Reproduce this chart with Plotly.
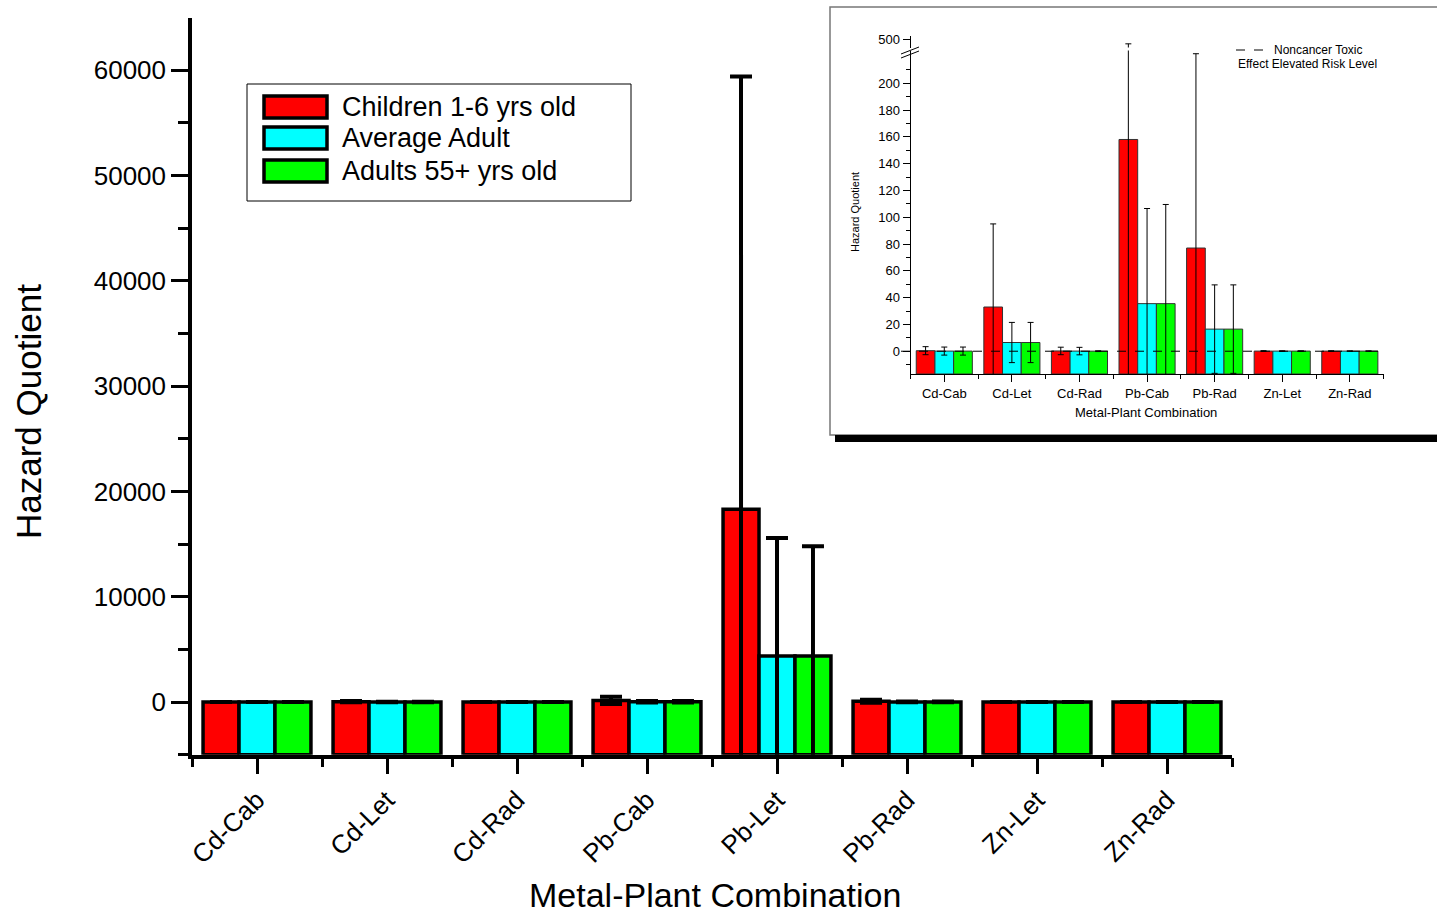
import plotly.graph_objects as go

W, H = 1437, 917

categories = ["Cd-Cab", "Cd-Let", "Cd-Rad", "Pb-Cab", "Pb-Let", "Pb-Rad", "Zn-Let", "Zn-Rad"]
series_names = ["Children 1-6 yrs old", "Average Adult", "Adults 55+ yrs old"]
series_colors = ["#FF0000", "#00FFFF", "#00FF00"]

children = [0.4, 33, 0.2, 158, 18300, 77, 0.1, 0.1]
children_err = [3, 62, 2.8, 334, 41100, 145, 0.3, 0.3]
adult = [0.1, 6.5, 0.1, 35.5, 4370, 16.5, 0.1, 0.1]
adult_err = [3, 15, 2.8, 71, 11200, 33, 0.2, 0.2]
senior = [0.1, 6.5, 0.05, 35.5, 4370, 16.5, 0.1, 0.1]
senior_err = [3, 15, 0.3, 74, 10430, 33, 0.2, 0.2]

main_yticks = [0, 10000, 20000, 30000, 40000, 50000, 60000]
main_yrange = [-5000, 65000]
inset_yticks = [0, 20, 40, 60, 80, 100, 120, 140, 160, 180, 200]
inset_yrange = [-17, 224.4]
inset_upper_range = [485, 507]
inset_upper_ticks = [500]
inset_exclude = "Pb-Let"

values = [children, adult, senior]
errors = [children_err, adult_err, senior_err]

inset_idx = [i for i, c in enumerate(categories) if c != inset_exclude]
inset_categories = [categories[i] for i in inset_idx]


def fx(p):
    return p / W


def fy(p):
    return 1 - p / H


fig = go.Figure()

# main chart: bars rise from the bottom of the value axis (Origin style)
main_base = main_yrange[0]
xs = list(range(len(categories)))
for name, col, v, e in zip(series_names, series_colors, values, errors):
    fig.add_trace(go.Bar(
        x=xs, y=[val - main_base for val in v], base=main_base, name=name, xaxis="x", yaxis="y",
        marker=dict(color=col, line=dict(color="black", width=3.5)),
        error_y=dict(type="data", array=e, visible=True, color="black", thickness=4, width=11),
        showlegend=False,
    ))

# inset chart (lower and upper part of broken axis)
inset_base = inset_yrange[0]
xi = list(range(len(inset_categories)))
for yax in ["y2", "y3"]:
    for name, col, v, e in zip(series_names, series_colors, values, errors):
        fig.add_trace(go.Bar(
            x=xi, y=[v[i] - inset_base for i in inset_idx], base=inset_base, name=name,
            xaxis="x2", yaxis=yax,
            marker=dict(color=col, line=dict(color="#333333", width=1)),
            error_y=dict(type="data", array=[e[i] for i in inset_idx], visible=True,
                         color="black", thickness=1, width=3),
            showlegend=False,
        ))

font_main = "Liberation Sans, Arial, sans-serif"

fig.update_layout(
    template="none",
    width=W, height=H,
    margin=dict(l=0, r=0, t=0, b=0, autoexpand=False),
    paper_bgcolor="white", plot_bgcolor="rgba(0,0,0,0)",
    barmode="group", bargap=0.17, bargroupgap=0,
    showlegend=False,
    font=dict(family=font_main, color="black"),
    xaxis=dict(
        domain=[fx(192), fx(1232)], anchor="y",
        range=[-0.5, len(categories) - 0.5],
        tickmode="array", tickvals=xs, ticktext=categories, tickangle=-45,
        tickfont=dict(size=26, family=font_main, color="black"),
        ticks="outside", ticklen=16, tickwidth=3, tickcolor="black",
        minor=dict(tickmode="array", tickvals=[i - 0.5 for i in range(len(categories) + 1)],
                   ticks="outside", ticklen=9, tickwidth=3, tickcolor="black"),
        showline=True, linewidth=3.5, linecolor="black",
        showgrid=False, zeroline=False,
    ),
    yaxis=dict(
        domain=[fy(754.7), fy(17.6)], anchor="x",
        range=main_yrange,
        tickmode="array", tickvals=main_yticks, ticktext=[str(t) for t in main_yticks],
        tickfont=dict(size=26, family=font_main, color="black"),
        ticks="outside", ticklen=17, tickwidth=3, tickcolor="black",
        minor=dict(tickmode="array", tickvals=[t - 5000 for t in main_yticks],
                   ticks="outside", ticklen=10, tickwidth=3, tickcolor="black"),
        showline=True, linewidth=3.5, linecolor="black",
        showgrid=False, zeroline=False,
    ),
    xaxis2=dict(
        domain=[fx(910.5), fx(1383.6)], anchor="y2",
        range=[-0.5, len(inset_categories) - 0.5],
        tickmode="array", tickvals=xi, ticktext=inset_categories, tickangle=0,
        tickfont=dict(size=13, family=font_main, color="black"),
        ticks="outside", ticklen=7, tickwidth=1, tickcolor="black",
        minor=dict(tickmode="array", tickvals=[i - 0.5 for i in range(len(inset_categories) + 1)],
                   ticks="outside", ticklen=4, tickwidth=1, tickcolor="black"),
        showline=True, linewidth=1, linecolor="black",
        showgrid=False, zeroline=False,
    ),
    yaxis2=dict(
        domain=[fy(374), fy(50.5)], anchor="x2",
        range=inset_yrange,
        tickmode="array", tickvals=inset_yticks, ticktext=[str(t) for t in inset_yticks],
        tickfont=dict(size=13, family=font_main, color="black"),
        ticks="outside", ticklen=7, tickwidth=1, tickcolor="black",
        minor=dict(tickmode="array", tickvals=[t + 10 for t in inset_yticks] + [-10],
                   ticks="outside", ticklen=4, tickwidth=1, tickcolor="black"),
        showline=True, linewidth=1, linecolor="black",
        showgrid=False, zeroline=False,
    ),
    yaxis3=dict(
        domain=[fy(47.5), fy(36)], anchor="x2",
        range=inset_upper_range,
        tickmode="array", tickvals=inset_upper_ticks, ticktext=[str(t) for t in inset_upper_ticks],
        tickfont=dict(size=13, family=font_main, color="black"),
        ticks="outside", ticklen=7, tickwidth=1, tickcolor="black",
        showline=True, linewidth=1, linecolor="black",
        showgrid=False, zeroline=False,
    ),
)

shapes = []
# inset frame and shadow
shapes.append(dict(type="rect", xref="paper", yref="paper", x0=fx(830), x1=fx(1445), y0=fy(435), y1=fy(7),
                   line=dict(color="#777777", width=1.5), fillcolor="rgba(0,0,0,0)", layer="below"))
shapes.append(dict(type="rect", xref="paper", yref="paper", x0=fx(835), x1=fx(1445), y0=fy(442), y1=fy(435),
                   line=dict(width=0), fillcolor="black"))
# dashed zero line in inset
shapes.append(dict(type="line", xref="paper", yref="y2", x0=fx(901), x1=fx(1384), y0=0, y1=0,
                   line=dict(color="black", width=1, dash="dash")))
# axis break marks
shapes.append(dict(type="line", xref="paper", yref="paper", x0=fx(901), x1=fx(919), y0=fy(58), y1=fy(51),
                   line=dict(color="black", width=1)))
shapes.append(dict(type="line", xref="paper", yref="paper", x0=fx(901), x1=fx(919), y0=fy(54), y1=fy(47),
                   line=dict(color="black", width=1)))
# inset legend dashed sample
shapes.append(dict(type="line", xref="paper", yref="paper", x0=fx(1236), x1=fx(1268), y0=fy(50), y1=fy(50),
                   line=dict(color="black", width=1, dash="dash")))
# main legend box
shapes.append(dict(type="rect", xref="paper", yref="paper", x0=fx(247), x1=fx(631), y0=fy(201), y1=fy(84),
                   line=dict(color="black", width=1), fillcolor="white", layer="below"))
legend_rows = [107, 138, 171]
for (yc, col) in zip(legend_rows, series_colors):
    shapes.append(dict(type="rect", xref="paper", yref="paper", x0=fx(264), x1=fx(327),
                       y0=fy(yc + 11), y1=fy(yc - 11),
                       line=dict(color="black", width=3.5), fillcolor=col))

annotations = []
for yc, name in zip(legend_rows, series_names):
    annotations.append(dict(xref="paper", yref="paper", x=fx(340), y=fy(yc), text=name, showarrow=False,
                            xanchor="left", yanchor="middle", font=dict(size=27, family=font_main, color="black")))
annotations.append(dict(xref="paper", yref="paper", x=fx(28), y=fy(412), text="Hazard Quotient", showarrow=False,
                        textangle=-90, xanchor="center", yanchor="middle",
                        font=dict(size=35, family=font_main, color="black")))
annotations.append(dict(xref="paper", yref="paper", x=fx(715), y=fy(895), text="Metal-Plant Combination",
                        showarrow=False, xanchor="center", yanchor="middle",
                        font=dict(size=34, family=font_main, color="black")))
annotations.append(dict(xref="paper", yref="paper", x=fx(855), y=fy(212), text="Hazard Quotient", showarrow=False,
                        textangle=-90, xanchor="center", yanchor="middle",
                        font=dict(size=11, family=font_main, color="black")))
annotations.append(dict(xref="paper", yref="paper", x=fx(1146), y=fy(412), text="Metal-Plant Combination",
                        showarrow=False, xanchor="center", yanchor="middle",
                        font=dict(size=13, family=font_main, color="black")))
annotations.append(dict(xref="paper", yref="paper", x=fx(1272), y=fy(50), text="Noncancer Toxic",
                        showarrow=False, xanchor="left", yanchor="middle",
                        font=dict(size=12, family=font_main, color="black")))
annotations.append(dict(xref="paper", yref="paper", x=fx(1236), y=fy(64), text="Effect Elevated Risk Level",
                        showarrow=False, xanchor="left", yanchor="middle",
                        font=dict(size=12, family=font_main, color="black")))

fig.update_layout(shapes=shapes, annotations=annotations)

fig.write_html(
    "out.html",
    config={"displayModeBar": False},
    post_script="document.body.style.margin='0';document.body.style.overflow='hidden';",
)
